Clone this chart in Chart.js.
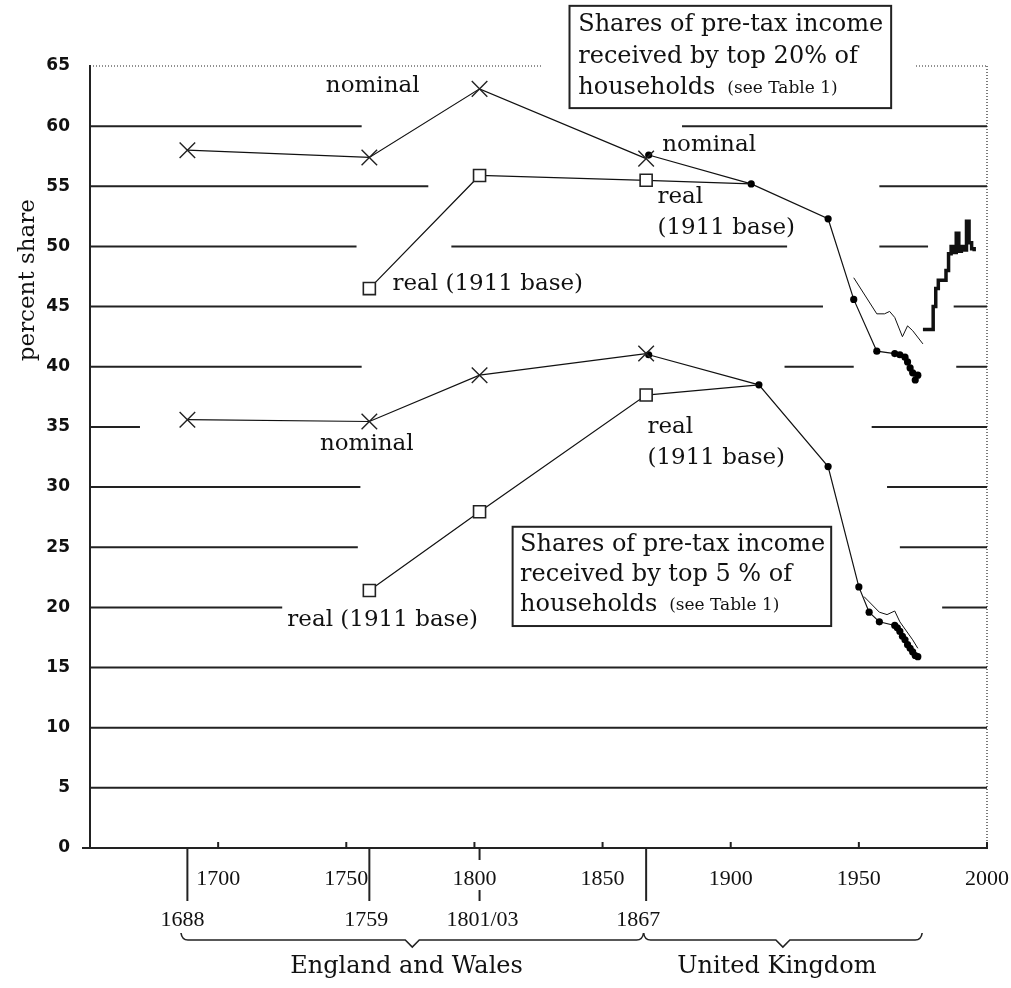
<!DOCTYPE html>
<html><head><meta charset="utf-8">
<script src="https://cdn.jsdelivr.net/npm/chart.js@4.4.1/dist/chart.umd.min.js"></script>
<style>html,body{margin:0;padding:0;background:#fff;}canvas{display:block;}</style>
</head><body>
<canvas id="c" width="1011" height="988"></canvas>
<script>
// ---------- data ----------
const xTickYears = [1700, 1750, 1800, 1850, 1900, 1950, 2000];
const periodYears = [1688, 1759, 1802, 1867];
const periodLabels = ['1688', '1759', '1801/03', '1867'];
const regionLabels = ['England and Wales', 'United Kingdom'];
const yAxisTitle = 'percent share';

// Top 20 % of households
const t20NomEWYears = [1688, 1759, 1802, 1867];
const t20NomEW      = [58.0, 57.4, 63.1, 57.3];
const t20RealEWYears = [1759, 1802, 1867, 1908];   // last point: joins the UK series
const t20RealEW      = [46.5, 55.9, 55.5, 55.2];
const t20UKYears = [1868, 1908, 1938, 1948, 1957, 1964, 1966, 1968, 1969, 1970, 1971, 1972, 1973];
const t20UK      = [57.6, 55.2, 52.3, 45.6, 41.3, 41.1, 41.0, 40.8, 40.4, 39.9, 39.5, 38.9, 39.3];
const t20AltYears = [1948, 1957, 1960, 1962, 1964, 1967, 1969, 1971, 1975];
const t20Alt      = [47.4, 44.4, 44.4, 44.6, 44.1, 42.5, 43.4, 43.0, 41.9];
const t20RecentYears = [1975,1976,1977,1978,1979,1980,1981,1982,1983,1984,1985,1986,1987,1988,1989,1990,1991,1992,1993,1994,1995];
const t20Recent      = [43.1,43.1,43.1,43.1,45.0,46.5,47.2,47.2,47.2,48.0,49.4,50.0,49.5,51.1,49.6,50.0,49.7,52.1,50.3,49.8,49.6];

// Top 5 % of households
const t5NomEWYears = [1688, 1759, 1802, 1867];
const t5NomEW      = [35.6, 35.45, 39.3, 41.1];
const t5RealEWYears = [1759, 1802, 1867, 1911];    // last point: joins the UK series
const t5RealEW      = [21.4, 27.95, 37.65, 38.5];
const t5UKYears = [1868, 1911, 1938, 1950, 1954, 1958, 1964, 1965, 1966, 1967, 1968, 1969, 1970, 1971, 1972, 1973];
const t5UK      = [41.0, 38.5, 31.7, 21.7, 19.6, 18.8, 18.5, 18.3, 18.0, 17.6, 17.3, 16.9, 16.6, 16.3, 16.0, 15.9];
const t5AltYears = [1952, 1958, 1961, 1964, 1966, 1971, 1973];
const t5Alt      = [20.9, 19.6, 19.4, 19.7, 18.8, 17.3, 16.6];

// ---------- layout / decoration (not data) ----------
const gridSegs = [
  [60, [[1650,1756],[1881,2000]]],
  [55, [[1650,1782],[1958,2000]]],
  [50, [[1650,1754],[1791,1922],[1958,1977]]],
  [45, [[1650,1936],[1987,2000]]],
  [40, [[1650,1756],[1921,1948],[1988,2000]]],
  [35, [[1650,1669.5],[1955,2000]]],
  [30, [[1650,1755.5],[1961,2000]]],
  [25, [[1650,1754.5],[1966,2000]]],
  [20, [[1650,1725],[1982.5,2000]]],
  [15, [[1650,2000]]],
  [10, [[1650,2000]]],
  [5,  [[1650,2000]]]
];
const topDotted = [[1650,1826.5],[1972.3,2000]];
const SERIF = '"DejaVu Serif", serif';
const TICKF = '"Liberation Serif", serif';

const labels = [
  {t:'nominal', x:1760.3, y:63.3, a:'center'},
  {t:'real (1911 base)', x:1768, y:46.9, a:'left'},
  {t:'nominal', x:1873.3, y:58.4, a:'left'},
  {t:'real', x:1871.4, y:54.1, a:'left'},
  {t:'(1911 base)', x:1871.4, y:51.5, a:'left'},
  {t:'nominal', x:1758, y:33.6, a:'center'},
  {t:'real', x:1867.5, y:35.0, a:'left'},
  {t:'(1911 base)', x:1867.5, y:32.4, a:'left'},
  {t:'real (1911 base)', x:1764.2, y:18.95, a:'center'}
];
const boxes = [
  {x0:1837.1, x1:1962.6, y0:70.0, y1:61.5, tx:1840.5, lines:[68.4,65.75,63.2],
   text:['Shares of pre-tax income','received by top 20% of','households']},
  {x0:1814.9, x1:1939.2, y0:26.7, y1:18.45, tx:1817.8, lines:[25.2,22.7,20.2],
   text:['Shares of pre-tax income','received by top 5 % of','households']}
];

const pts = (xs, ys) => xs.map((x, i) => ({x, y: ys[i]}));

function lineDS(data, opt) {
  return Object.assign({data, borderColor:'#111', backgroundColor:'#111', borderWidth:1.2,
    pointRadius:0, pointBorderWidth:1.4, tension:0, fill:false}, opt);
}
const cross = {pointStyle:'crossRot', pointRadius:11, pointBorderColor:'#222', pointBackgroundColor:'#fff', pointBorderWidth:1.4};
const square = {pointStyle:'rect', pointRadius:[8.5, 8.5, 8.5, 0], pointBorderColor:'#222', pointBackgroundColor:'#fff', pointBorderWidth:1.6};
const dot = {pointStyle:'circle', pointRadius:3.6, pointBorderWidth:0, pointBackgroundColor:'#000'};

const datasets = [
  lineDS(pts(t20NomEWYears, t20NomEW), cross),
  lineDS(pts(t20RealEWYears, t20RealEW), square),
  lineDS(pts(t20UKYears, t20UK), dot),
  lineDS(pts(t20AltYears, t20Alt), {borderWidth:1}),
  lineDS(pts(t20RecentYears, t20Recent), {borderWidth:3.5, stepped:'before'}),
  lineDS(pts(t5NomEWYears, t5NomEW), cross),
  lineDS(pts(t5RealEWYears, t5RealEW), square),
  lineDS(pts(t5UKYears, t5UK), dot),
  lineDS(pts(t5AltYears, t5Alt), {borderWidth:1})
];

function seg(ctx, x0, y0, x1, y1) { ctx.beginPath(); ctx.moveTo(x0, y0); ctx.lineTo(x1, y1); ctx.stroke(); }

const deco = {
  id: 'deco',
  beforeDatasetsDraw(chart) {
    const {ctx, chartArea: ar, scales: {x: xs, y: ys}} = chart;
    const X = v => xs.getPixelForValue(v), Y = v => ys.getPixelForValue(v);
    ctx.save();
    ctx.strokeStyle = '#222'; ctx.lineWidth = 2;
    for (const [v, ss] of gridSegs) for (const [a, b] of ss) seg(ctx, X(a), Y(v), X(b), Y(v));
    ctx.setLineDash([1, 2]); ctx.lineWidth = 1.2;
    for (const [a, b] of topDotted) seg(ctx, X(a), Y(65), X(b), Y(65));
    seg(ctx, X(2000), Y(65), X(2000), Y(0));
    ctx.setLineDash([]);
    ctx.restore();
  },
  afterDatasetsDraw(chart) {
    const {ctx, chartArea: ar, scales: {x: xs, y: ys}} = chart;
    const X = v => xs.getPixelForValue(v), Y = v => ys.getPixelForValue(v);
    const b = ar.bottom;
    ctx.save();
    ctx.strokeStyle = '#222'; ctx.fillStyle = '#111'; ctx.lineWidth = 2;
    seg(ctx, ar.left - 8, b, ar.left, b);
    for (const t of xTickYears) seg(ctx, X(t), b, X(t), b - 6);
    periodYears.forEach((p, i) => {
      const x = X(p);
      if (periodLabels[i] === '1801/03') { seg(ctx, x, b, x, b + 12); seg(ctx, x, b + 42, x, b + 53); }
      else seg(ctx, x, b, x, b + 53);
    });
    ctx.font = '22px ' + TICKF; ctx.textAlign = 'center'; ctx.textBaseline = 'middle';
    const offs = [-5, -3, 3, -8];
    periodYears.forEach((p, i) => ctx.fillText(periodLabels[i], X(p) + offs[i], b + 72));
    ctx.lineWidth = 1.6;
    const y0 = b + 92;
    const brace = (x0, x1) => {
      const m = (x0 + x1) / 2;
      ctx.beginPath();
      ctx.moveTo(x0, y0 - 7);
      ctx.quadraticCurveTo(x0 + 1, y0, x0 + 7, y0);
      ctx.lineTo(m - 7, y0); ctx.lineTo(m, y0 + 7); ctx.lineTo(m + 7, y0);
      ctx.lineTo(x1 - 7, y0);
      ctx.quadraticCurveTo(x1 - 1, y0, x1, y0 - 7);
      ctx.stroke();
    };
    brace(X(1685.5), X(1866));
    brace(X(1866), X(1974.7));
    ctx.font = '24px ' + SERIF; ctx.textBaseline = 'middle';
    ctx.fillText(regionLabels[0], X(1773.5), b + 119);
    ctx.fillText(regionLabels[1], X(1918), b + 119);
    ctx.font = '23px ' + SERIF;
    for (const l of labels) { ctx.textAlign = l.a; ctx.fillText(l.t, X(l.x), Y(l.y)); }
    for (const bx of boxes) {
      ctx.fillStyle = '#fff';
      const x0 = X(bx.x0), x1 = X(bx.x1), yt = Y(bx.y0), yb = Y(bx.y1);
      ctx.fillRect(x0, yt, x1 - x0, yb - yt);
      ctx.strokeStyle = '#222'; ctx.lineWidth = 2;
      ctx.strokeRect(x0, yt, x1 - x0, yb - yt);
      ctx.fillStyle = '#111'; ctx.textAlign = 'left';
      bx.text.forEach((t, i) => {
        ctx.font = '24px ' + SERIF;
        ctx.fillText(t, X(bx.tx), Y(bx.lines[i]));
        if (i === 2) {
          const w = ctx.measureText(t).width;
          ctx.font = '17px ' + SERIF;
          ctx.fillText('(see Table 1)', X(bx.tx) + w + 12, Y(bx.lines[i]) + 1);
        }
      });
    }
    ctx.save();
    ctx.translate(28, Y(47.2)); ctx.rotate(-Math.PI / 2);
    ctx.font = '23px ' + SERIF; ctx.textAlign = 'center'; ctx.textBaseline = 'middle';
    ctx.fillText(yAxisTitle, 0, 0);
    ctx.restore();
    ctx.restore();
  }
};

new Chart(document.getElementById('c'), {
  type: 'line',
  data: {datasets},
  options: {
    responsive: false, animation: false, devicePixelRatio: 1,
    layout: {padding: {top: 66, right: 24, left: 0, bottom: 0}},
    plugins: {legend: {display: false}, tooltip: {enabled: false}},
    scales: {
      x: {type: 'linear', min: 1650, max: 2000,
        grid: {display: false, drawTicks: false},
        border: {display: true, color: '#222', width: 2},
        ticks: {stepSize: 50, color: '#111', padding: 18, maxRotation: 0,
          font: {family: '"Liberation Serif", serif', size: 22},
          callback: v => (v === 1650 ? '' : String(v))},
        afterFit: s => { s.height = 140; s.paddingRight = 0; s.paddingLeft = 0; }},
      y: {type: 'linear', min: 0, max: 65,
        grid: {display: false, drawTicks: false},
        border: {display: true, color: '#222', width: 2},
        ticks: {stepSize: 5, color: '#111', padding: 20,
          font: {family: '"DejaVu Sans", sans-serif', size: 17, weight: 'bold'},
          callback: v => String(v)},
        afterFit: s => { s.width = 90; s.paddingTop = 0; s.paddingBottom = 0; }}
    }
  },
  plugins: [deco]
});
</script>
</body></html>
